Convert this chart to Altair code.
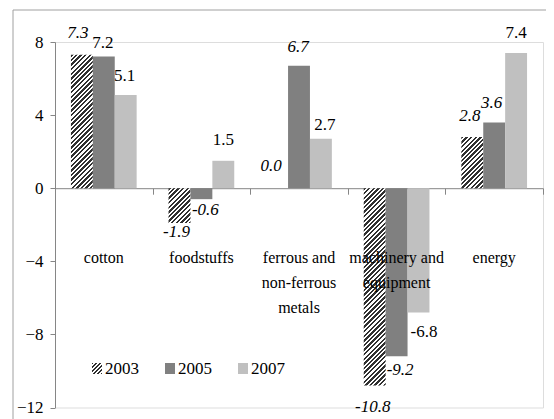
import altair as alt
import pandas as pd

# ---------------- data ----------------
categories = ["cotton", "foodstuffs", "ferrous and non-ferrous metals",
              "machinery and equipment", "energy"]
years = ["2003", "2005", "2007"]
v2003 = [7.3, -1.9, 0.0, -10.8, 2.8]
v2005 = [7.2, -0.6, 6.7, -9.2, 3.6]
v2007 = [5.1, 1.5, 2.7, -6.8, 7.4]
y_ticks = [-12, -8, -4, 0, 4, 8]

# ---------------- styling ----------------
FONT = "Liberation Serif"
AX = "#868686"
W, H = 488, 365.5
Y_DOM = [-12, 8]
PX_PER_UNIT = H / (Y_DOM[1] - Y_DOM[0])
BAR_W = 21.9
colors = ["#3a3a3a", "#808080", "#c0c0c0"]

wrapped = {
    "ferrous and non-ferrous metals": "ferrous and\nnon-ferrous\nmetals",
    "machinery and equipment": "machinery and\nequipment",
}
# label nudges in pixels (dx, dy) relative to bar end
nudge = {
    ("cotton", "2003"): (-4, -22), ("cotton", "2005"): (-1, -14), ("cotton", "2007"): (-1, -19),
    ("foodstuffs", "2003"): (-3, 9), ("foodstuffs", "2005"): (4, 11), ("foodstuffs", "2007"): (0, -21),
    ("ferrous and non-ferrous metals", "2003"): (-6, -22),
    ("ferrous and non-ferrous metals", "2005"): (-1, -19),
    ("ferrous and non-ferrous metals", "2007"): (4, -14),
    ("machinery and equipment", "2003"): (-2, 21),
    ("machinery and equipment", "2005"): (3.5, 14),
    ("machinery and equipment", "2007"): (5.5, 20),
    ("energy", "2003"): (-2.5, -21), ("energy", "2005"): (-2.5, -19), ("energy", "2007"): (0, -20),
}
upright = {("cotton", "2005")}


def hatch(w, h, period=4.6, dark="#303030", light="#ffffff", frac=0.5):
    L = w + h
    c = L / (w * w + h * h)
    stops = []
    k = 0
    while True:
        a = k * period / L
        if a >= 1:
            break
        b = min((k * period + frac * period) / L, 1)
        e = min((k + 1) * period / L, 1)
        stops += [{"offset": a, "color": dark}, {"offset": b, "color": dark},
                  {"offset": b, "color": light}, {"offset": e, "color": light}]
        k += 1
    return {"gradient": "linear", "x1": 0, "y1": 0, "x2": c * w, "y2": c * h, "stops": stops}


rows = []
for yr, vals in zip(years, [v2003, v2005, v2007]):
    for cat, v in zip(categories, vals):
        rows.append({"cat": cat, "year": yr, "value": v, "label": f"{v:.1f}"})
df = pd.DataFrame(rows)

conds = []
for cat, v in zip(categories, v2003):
    hpx = abs(v) * PX_PER_UNIT
    if hpx > 0.5:
        conds.append({"test": f"datum.cat === '{cat}' && datum.year === '2003'",
                      "value": hatch(BAR_W, hpx)})

X = alt.X("cat:N", sort=categories, title=None,
          scale=alt.Scale(paddingInner=0, paddingOuter=0),
          axis=alt.Axis(labels=False, title=None, tickBand="extent", domainColor=AX,
                        tickColor=AX, tickSize=6, offset=-(H - 8 * PX_PER_UNIT),
                        domainWidth=1, tickWidth=1))
XO = alt.XOffset("year:N", sort=years, scale=alt.Scale(paddingInner=0, paddingOuter=0.728))
Y = alt.Y("value:Q", title=None,
          scale=alt.Scale(domain=Y_DOM, nice=False, zero=False),
          axis=alt.Axis(values=y_ticks, grid=False, domainColor=AX, tickColor=AX,
                        tickSize=5, labelPadding=7, labelFont=FONT, labelFontSize=17,
                        labelColor="black", format="d"))

bars = alt.Chart(df).mark_bar().encode(
    x=X, xOffset=XO, y=Y, y2=alt.datum(0),
    fill=alt.Fill("year:N", sort=years, legend=None,
                  scale=alt.Scale(domain=years, range=colors), condition=conds),
)

layers = [bars]

# value labels
for yr in years:
    for cat in categories:
        dx, dy = nudge[(cat, yr)]
        italic = yr in ("2003", "2005") and (cat, yr) not in upright
        lay = alt.Chart(df).transform_filter(
            f"datum.cat === '{cat}' && datum.year === '{yr}'"
        ).mark_text(font=FONT, fontSize=17, dx=dx, dy=dy, baseline="middle",
                    fontStyle="italic" if italic else "normal", color="black").encode(
            x=X, xOffset=XO, y=Y, text="label:N")
        layers.append(lay)

# category labels
cat_df = pd.DataFrame({"cat": categories,
                       "txt": [wrapped.get(c, c) for c in categories]})
cat_labels = alt.Chart(cat_df).mark_text(
    font=FONT, fontSize=16, baseline="alphabetic", lineBreak="\n", lineHeight=25,
    color="black").encode(x=X, y=alt.value(220.7), text="txt:N")
layers.append(cat_labels)

# legend (manual so the hatch swatch can be shown)
leg_x = [37, 110, 183]
for i, yr in enumerate(years):
    ldf = pd.DataFrame({"year": [yr]})
    fill = hatch(10, 11, period=4.0) if i == 0 else colors[i]
    sw = alt.Chart(ldf).mark_rect(fill=fill).encode(
        x=alt.value(leg_x[i]), x2=alt.value(leg_x[i] + 10),
        y=alt.value(321), y2=alt.value(332))
    tx = alt.Chart(ldf).mark_text(font=FONT, fontSize=17, align="left",
                                  baseline="middle", color="black").encode(
        x=alt.value(leg_x[i] + 13), y=alt.value(327), text="year:N")
    layers += [sw, tx]

# chart-area border (top and left edges visible)
bd = pd.DataFrame({"k": [0]})
border_top = alt.Chart(bd).mark_rule(color="#a0a0a0", strokeWidth=1).encode(
    x=alt.value(-42), x2=alt.value(W + 10), y=alt.value(-32))
border_left = alt.Chart(bd).mark_rule(color="#a0a0a0", strokeWidth=1).encode(
    x=alt.value(-42), y=alt.value(-32), y2=alt.value(H + 20))
layers += [border_top, border_left]

chart = alt.layer(*layers).properties(
    width=W, height=H,
    autosize=alt.AutoSizeParams(type="none"),
    padding={"left": 47, "top": 34, "right": 3, "bottom": 11.5},
).configure_view(strokeWidth=0).configure_axis(labelFont=FONT).configure(font=FONT)

chart.save("out.html", embed_options={"renderer": "svg", "actions": False})
